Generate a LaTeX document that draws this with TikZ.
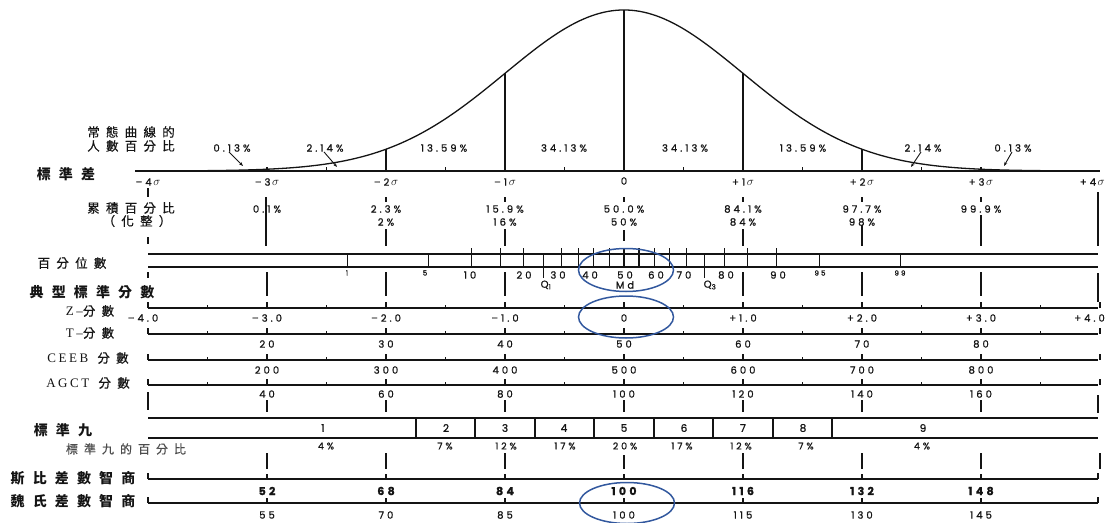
\documentclass[tikz,border=0pt]{standalone}
\usepackage{fontspec}
\usetikzlibrary{arrows.meta}
\newfontfamily\cjk[LetterSpace=50,FakeBold=0.6]{Noto Sans CJK TC}
\newfontfamily\cjkb[LetterSpace=58]{Noto Sans CJK TC}
\newfontfamily\numf[LetterSpace=30,FakeBold=1]{Poppins}
\newfontfamily\latf[LetterSpace=20]{Liberation Serif}
\definecolor{ringblue}{RGB}{50,88,158}
\definecolor{ink}{RGB}{20,20,20}
\begin{document}
\begin{tikzpicture}[x=1pt,y=-1pt,
  lab/.style={font=\numf\fontsize{10}{11}\selectfont,inner sep=0pt,text=ink},
  tiny/.style={font=\numf\fontsize{7}{8}\selectfont,inner sep=0pt,text=ink},
  bignum/.style={font=\numf\bfseries\fontsize{11}{12}\selectfont,inner sep=0pt,text=ink},
  cj/.style={font=\cjk\fontsize{12.5}{13}\selectfont,inner sep=0pt,text=ink},
  cjl/.style={font=\cjk\fontsize{12}{13}\selectfont,inner sep=0pt,text=black!70},
  cjb/.style={font=\cjkb\bfseries\fontsize{14}{15}\selectfont,inner sep=0pt,text=ink},
  ln/.style={draw=ink,line width=1.1pt},
  thk/.style={draw=ink,line width=1.8pt},
  arr/.style={draw=ink,line width=0.9pt,-{Stealth[length=4pt,width=3pt]}},
  ring/.style={draw=ringblue,line width=1.5pt}]
\useasboundingbox (0,0) rectangle (1105,522);

% ---------- normal curve ----------
\draw[draw=ink,line width=1.3pt] plot[domain=-4:4,samples=241,smooth] ({624+119*\x},{171-161*exp(-0.5*\x*\x)});
\draw[thk] (135,171) -- (1100,171);
\foreach \z in {-2,-1,0,1,2}
  \draw[ln] ({624+119*\z},171) -- ({624+119*\z},{171-161*exp(-0.5*\z*\z)});
\foreach \z in {-3,-2.5,-1.5,-0.5,0.5,1.5,2.5,3}
  \draw[ln] ({624+119*\z},171) -- ({624+119*\z},167);

\node[cj] (t1) at (131,132) {常態曲線的};
\node[cj] (t2) at (131,146) {人數百分比};

\node[lab] (p1) at (232,148) {0.13\%};
\node[lab] (p2) at (325,148) {2.14\%};
\node[lab] (p3) at (444,148) {13.59\%};
\node[lab] (p4) at (564,148) {34.13\%};
\node[lab] (p5) at (685,148) {34.13\%};
\node[lab] (p6) at (803,148) {13.59\%};
\node[lab] (p7) at (923,148) {2.14\%};
\node[lab] (p8) at (1013,148) {0.13\%};
\coordinate (a1) at (243,166);
\coordinate (a2) at (337,167);
\coordinate (a7) at (911,167);
\coordinate (a8) at (1004,166);
\draw[arr] ([xshift=-3pt]p1.south) -- (a1);
\draw[arr] ([xshift=-1pt]p2.south) -- (a2);
\draw[arr] ([xshift=-2pt]p7.south) -- (a7);
\draw[arr] ([xshift=-1pt]p8.south) -- (a8);

% ---------- sigma row ----------
\node[cjb] (sd) at (66,174) {標準差};
\foreach \z/\t [count=\i] in {-4/{–4},-3/{–3},-2/{–2},-1/{–1},1/{+1},2/{+2},3/{+3}}
  \node[lab] (sg\i) at ({624+119*\z},182) {\t\,{\fontsize{11.5}{12}\selectfont$\sigma$}};
\node[lab,anchor=east] (sg8) at (1105,182) {+4\,{\fontsize{11.5}{12}\selectfont$\sigma$}};
\node[lab] (sg0) at (624,181) {0};

% ---------- cumulative percentages ----------
\node[cj] (cum) at (131,208) {累積百分比};
\node[cj] (cum2) at (137,221) {（化整）};
\foreach \z/\t [count=\i] in {-3/0.1,-2/2.3,-1/15.9,0/50.0,1/84.1,2/97.7,3/99.9}
  \node[lab] (cu\i) at ({624+119*\z},209) {\t\%};
\foreach \z/\t [count=\i] in {-2/2,-1/16,0/50,1/84,2/98}
  \node[lab] (cr\i) at ({624+119*\z},222) {\t\%};
\foreach \z in {-2,-1,0,1,2,3}
  \draw[ln] ({624+119*\z},197) -- ({624+119*\z},202);
\draw[ln] (148,188) -- (148,197);
\draw[ln] (266,197) -- (266,246);
\foreach \z in {-2,-1,1}
  \draw[ln] ({624+119*\z},229) -- ({624+119*\z},246);
\draw[ln] (624,230) -- (624,241);
\draw[ln] (862,225) -- (862,246);
\draw[ln] (981,215) -- (981,246);
\draw[ln] (1098,192) -- (1098,246);
\draw[ln] (148,237) -- (148,244);

% ---------- percentiles ----------
\node[cj] (pct) at (72,263) {百分位數};
\draw[ln] (148,254) -- (1098,254);
\draw[ln] (148,267) -- (1098,267);
\foreach \z in {-1.2816,-1.0364,-0.8416,-0.5244,-0.3853,-0.2533,-0.1257,0,0.1257,0.2533,0.3853,0.5244,0.8416,1.0364,1.2816}
  \draw[ln] ({624+119*\z},248) -- ({624+119*\z},267);
\foreach \z in {-2.326,-1.645,1.645,2.326}
  \draw[ln] ({624+119*\z},255) -- ({624+119*\z},267);
\foreach \z in {-0.6745,0.6745}
  \draw[ln] ({624+119*\z},255) -- ({624+119*\z},278);
\node[tiny] (q01) at (347,273) {1};
\node[tiny] (q05) at (425,273) {5};
\node[tiny] (q95) at (820,273) {95};
\node[tiny] (q99) at (900,273) {99};
\foreach \x/\t in {470/10,524/20,558/30,590/40,625/50,656/60,684/70,726/80,778/90}
  \node[lab] (q\t) at (\x,275) {\t};
\node[lab] (qq1) at (546,285) {Q\textsubscript{1}};
\node[lab] (qmd) at (625,285) {Md};
\node[lab] (qq3) at (710,285) {Q\textsubscript{3}};
\draw[ring] (626,270) ellipse [x radius=47.5, y radius=21.5];

% connectors below percentiles
\draw[ln] (148,272) -- (148,278);
\foreach \z in {-3,-2,-1,1,2,3}
  \draw[ln] ({624+119*\z},272) -- ({624+119*\z},296);
\draw[ln] (1098,273) -- (1098,302);

% ---------- standard scores ----------
\node[cjb] (typ) at (92,292) {典型標準分數};
\node[cj] (zl) at (90,311) {{\latf\fontsize{13}{14}\selectfont Z–}分數};
\node[cj] (tl) at (90,333) {{\latf\fontsize{13}{14}\selectfont T–}分數};
\node[cj] (cl) at (88,358) {{\latf\fontsize{13}{14}\selectfont CEEB} 分數};
\node[cj] (al) at (88,383) {{\latf\fontsize{13}{14}\selectfont AGCT} 分數};
\foreach \y in {308,334,360,385}{
  \draw[ln] (148,\y) -- (1098,\y);
  \foreach \z in {-4,...,4}
    \draw[ln] ({624+119*\z},\y) -- ({624+119*\z},{\y-6});
  \foreach \z in {-3.5,-2.5,-1.5,-0.5,0.5,1.5,2.5,3.5}
    \draw[ln] ({624+119*\z},\y) -- ({624+119*\z},{\y-3});
}
\node[lab] (zm4) at (143,318) {–4.0};
\foreach \z/\t [count=\i] in {-3/{–3.0},-2/{–2.0},-1/{–1.0},0/{0},1/{+1.0},2/{+2.0},3/{+3.0}}
  \node[lab] (zs\i) at ({624+119*\z},318) {\t};
\node[lab,anchor=east] (zs8) at (1105,318) {+4.0};
\foreach \z/\t [count=\i] in {-3/20,-2/30,-1/40,0/50,1/60,2/70,3/80}
  \node[lab] (ts\i) at ({624+119*\z},344) {\t};
\foreach \z/\t [count=\i] in {-3/200,-2/300,-1/400,0/500,1/600,2/700,3/800}
  \node[lab] (cs\i) at ({624+119*\z},370) {\t};
\foreach \z/\t [count=\i] in {-3/40,-2/60,-1/80,0/100,1/120,2/140,3/160}
  \node[lab] (as\i) at ({624+119*\z},394) {\t};
\draw[ring] (626,317) ellipse [x radius=47.5, y radius=21];

% connectors below AGCT
\draw[ln] (148,392) -- (148,410);
\foreach \z in {-3,...,3}
  \draw[ln] ({624+119*\z},400) -- ({624+119*\z},412);
\draw[ln] (1098,395) -- (1098,413);

% ---------- stanines ----------
\node[cjb] (stn) at (63,430) {標準九};
\draw[ln] (148,418) -- (1098,418);
\draw[ln] (148,438) -- (1098,438);
\foreach \z in {-1.75,-1.25,-0.75,-0.25,0.25,0.75,1.25,1.75}
  \draw[thk] ({624+119*\z},418) -- ({624+119*\z},438);
\foreach \x/\t in {323/1,446/2,505/3,564/4,624/5,684/6,743/7,803/8,923/9}
  \node[lab,font=\numf\fontsize{10.5}{11}\selectfont] (sn\t) at (\x,428) {\t};
\node[cjl] (stp) at (126,449) {標準九的百分比};
\foreach \x/\t [count=\i] in {326/4,445/7,506/12,565/17,625/20,682/17,741/12,806/7,922/4}
  \node[lab,font=\numf\fontsize{9.5}{10}\selectfont] (sp\i) at (\x,446) {\t\%};
\foreach \z in {-3,-2,2,3,4}
  \draw[ln] ({624+119*\z},453) -- ({624+119*\z},469);
\draw[ln] (505,453) -- (505,469);
\draw[ln] (743,453) -- (743,469);
\draw[ln] (624,455) -- (624,469);

% ---------- IQ rows ----------
\node[cjb] (sbl) at (73,478) {斯比差數智商};
\node[cjb] (wl) at (73,501) {魏氏差數智商};
\foreach \y in {479,503}{
  \draw[ln] (148,\y) -- (1098,\y);
  \draw[ln] (148,\y) -- (148,{\y-6});
  \draw[ln] (1098,\y) -- (1098,{\y-6});
  \foreach \z in {-3,...,3}
    \draw[ln] ({624+119*\z},\y) -- ({624+119*\z},{\y-5});
}
\foreach \z/\t [count=\i] in {-3/52,-2/68,-1/84,0/100,1/116,2/132,3/148}
  \node[bignum] (sb\i) at ({624+119*\z},491) {\t};
\foreach \z/\t [count=\i] in {-3/55,-2/70,-1/85,0/100,1/115,2/130,3/145}
  \node[lab] (wb\i) at ({624+119*\z},515) {\t};
\draw[ring] (627,503) ellipse [x radius=47.5, y radius=20.5];
\end{tikzpicture}
\end{document}
